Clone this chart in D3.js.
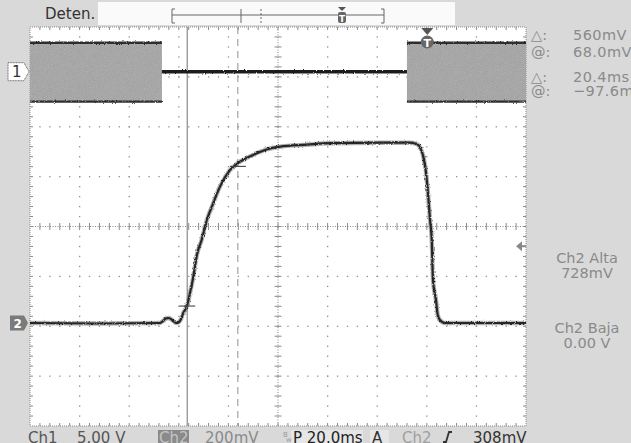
<!DOCTYPE html>
<html><head><meta charset="utf-8">
<script src="https://cdn.jsdelivr.net/npm/d3@7"></script>
<style>
html,body{margin:0;padding:0;background:#d9d9d9;overflow:hidden}
text{font-family:"DejaVu Sans",sans-serif}
</style></head>
<body><svg id="c" width="631" height="443"></svg>
<script>
// ---------- data ----------
// Channel 2 waveform: time (ms, relative to trigger) and voltage (mV)
const ch2Time = [-161,-132.8,-108.6,-107.4,-106.2,-105.0,-103.7,-102.1,-100.9,-100.1,-99.2,-97.6,-96.5,-95.4,-94.7,-93.7,-91.8,-89.7,-87.1,-84.4,-80.4,-76.3,-71.1,-65.6,-60.2,-49.4,-40.0,-19.9,-7.8,-5.1,-3.5,-2.4,-1.3,-0.4,0.3,1.0,1.5,2.7,3.4,4.3,6.3,39];
const ch2mV   = [0,-2,0,8,18,20,12,0,4,16,40,72,120,172,213,273,333,413,481,547,613,647,674,696,707,715,721,723,723,718,700,667,601,506,413,333,172,92,32,12,0,0];
// Channel 1: bursts (envelope, V) and idle section (V)
const ch1BurstStart = [-161, -9];
const ch1BurstEnd   = [-107.8, 39];
const ch1BurstHigh  = [2.9, 2.9];
const ch1BurstLow   = [-3.0, -3.0];
const ch1IdleStart  = [-107.8];
const ch1IdleEnd    = [-9];
const ch1IdleLevel  = [0];
// Cursors
const cursorTimes  = [-97.6, -77.2];
const cursorLevels = [68, 628];
const triggerLevel = 308;
// Settings
const timeDomain = [-161, 39];   // ms across 10 divisions (20 ms/div)
const ch2PerDiv = 200, ch2GroundDiv = 2.065;
const ch1PerDiv = 5, ch1GroundDiv = 7.104;
// Texts
const headerText = "Deten.";
const measLabels = ["\u25B3:", "@:", "\u25B3:", "@:"];
const measValues = ["560mV", "68.0mV", "20.4ms", "\u221297.6ms"];
const levelLabels = ["Ch2 Alta", "728mV", "Ch2 Baja", "0.00 V"];
const statusTexts = ["Ch1", "5.00 V", "Ch2", "200mV", "P 20.0ms", "A", "Ch2", "308mV"];

// ---------- layout ----------
const X0 = 30, X1 = 526, Y0 = 27, Y1 = 426;
const svg = d3.select("#c");
const defs = svg.append("defs");
const jit = defs.append("filter").attr("id","jit").attr("filterUnits","userSpaceOnUse")
  .attr("x",0).attr("y",0).attr("width",631).attr("height",443);
jit.append("feTurbulence").attr("type","fractalNoise").attr("baseFrequency","0.9 0.7")
  .attr("numOctaves",1).attr("seed",4).attr("result","n");
jit.append("feDisplacementMap").attr("in","SourceGraphic").attr("in2","n")
  .attr("scale",2.8).attr("xChannelSelector","R").attr("yChannelSelector","G");

const grain = defs.append("filter").attr("id","grain").attr("filterUnits","userSpaceOnUse")
  .attr("x",0).attr("y",0).attr("width",631).attr("height",443);
grain.append("feTurbulence").attr("type","fractalNoise").attr("baseFrequency","1.3")
  .attr("numOctaves",1).attr("seed",7).attr("result","t");
grain.append("feColorMatrix").attr("in","t").attr("type","matrix")
  .attr("values","0 0 0 0 0  0 0 0 0 0  0 0 0 0 0  0 0 0 0.28 0").attr("result","a");
grain.append("feComposite").attr("in","a").attr("in2","SourceGraphic").attr("operator","in").attr("result","g");
grain.append("feMerge").call(m=>{m.append("feMergeNode").attr("in","SourceGraphic");m.append("feMergeNode").attr("in","g");});

svg.append("rect").attr("width",631).attr("height",443).attr("fill","#d9d9d9");

// scales
const x = d3.scaleLinear().domain(timeDomain).range([X0, X1]);
const y2 = d3.scaleLinear().domain([-ch2GroundDiv*ch2PerDiv, (8-ch2GroundDiv)*ch2PerDiv]).range([Y1, Y0]);
const y1 = d3.scaleLinear().domain([-ch1GroundDiv*ch1PerDiv, (8-ch1GroundDiv)*ch1PerDiv]).range([Y1, Y0]);
const dx = d3.scaleLinear().domain([0,10]).range([X0, X1]);
const dy = d3.scaleLinear().domain([0,8]).range([Y1, Y0]);

// header bar
svg.append("text").attr("x",45).attr("y",19).attr("font-size",15).attr("fill","#333").text(headerText);
svg.append("rect").attr("x",98).attr("y",2).attr("width",357).attr("height",23).attr("fill","#fafafa");
const hb = svg.append("g").attr("stroke","#666").attr("stroke-width",1).attr("fill","none");
hb.append("line").attr("x1",172).attr("x2",384).attr("y1",15).attr("y2",15);
hb.append("path").attr("d","M175,9H172V23H175M381,9H384V23H381");
hb.append("line").attr("x1",241).attr("x2",241).attr("y1",9).attr("y2",23);
hb.append("line").attr("x1",261).attr("x2",261).attr("y1",9).attr("y2",23).attr("stroke-dasharray","2,2");
svg.append("path").attr("d","M338,7H346L342,11Z").attr("fill","#555");
svg.append("rect").attr("x",338).attr("y",12).attr("width",8).attr("height",11).attr("rx",2).attr("fill","#666");
svg.append("text").attr("x",342).attr("y",21.5).attr("font-size",9).attr("font-weight","bold").attr("text-anchor","middle").attr("fill","#fff").text("T");

// plot area
svg.append("rect").attr("x",X0).attr("y",Y0).attr("width",X1-X0).attr("height",Y1-Y0).attr("fill","#fff");

// graticule dots
const gdots = svg.append("g").attr("fill","#8e8e8e");
for (let i=1;i<10;i++){ if(i===5) continue;
  for (let j=1;j<40;j++) gdots.append("rect").attr("x",dx(i)-0.6).attr("y",dy(j/5)-0.6).attr("width",1.3).attr("height",1.3);
}
for (let r=1;r<8;r++){ if(r===4) continue;
  for (let k=1;k<50;k++) gdots.append("rect").attr("x",dx(k/5)-0.6).attr("y",dy(r)-0.6).attr("width",1.3).attr("height",1.3);
}
// center lines with ticks
const cg = svg.append("g").attr("stroke","#8a8a8a").attr("stroke-width",1);
cg.append("line").attr("x1",X0).attr("x2",X1).attr("y1",dy(4)).attr("y2",dy(4)).attr("stroke-dasharray","1,1.5");
cg.append("line").attr("x1",dx(5)).attr("x2",dx(5)).attr("y1",Y0).attr("y2",Y1).attr("stroke-dasharray","1,1.5");
for (let k=1;k<50;k++) cg.append("line").attr("x1",dx(k/5)).attr("x2",dx(k/5)).attr("y1",dy(4)-3.5).attr("y2",dy(4)+3.5);
for (let j=1;j<40;j++) cg.append("line").attr("x1",dx(5)-3.5).attr("x2",dx(5)+3.5).attr("y1",dy(j/5)).attr("y2",dy(j/5));
// border
cg.append("rect").attr("x",X0).attr("y",Y0).attr("width",X1-X0).attr("height",Y1-Y0).attr("fill","none").attr("stroke-dasharray","1,1");
for (let k=1;k<50;k++){ cg.append("line").attr("x1",dx(k/5)).attr("x2",dx(k/5)).attr("y1",Y1).attr("y2",Y1-3);
  cg.append("line").attr("x1",dx(k/5)).attr("x2",dx(k/5)).attr("y1",Y0).attr("y2",Y0+3); }
for (let j=1;j<40;j++){ cg.append("line").attr("x1",X0).attr("x2",X0+3).attr("y1",dy(j/5)).attr("y2",dy(j/5));
  cg.append("line").attr("x1",X1).attr("x2",X1-3).attr("y1",dy(j/5)).attr("y2",dy(j/5)); }

// vertical cursors
svg.append("line").attr("x1",x(cursorTimes[0])).attr("x2",x(cursorTimes[0])).attr("y1",Y0).attr("y2",Y1)
  .attr("stroke","#8a8a8a").attr("stroke-width",1.2);
svg.append("line").attr("x1",x(cursorTimes[1])).attr("x2",x(cursorTimes[1])).attr("y1",Y0).attr("y2",Y1)
  .attr("stroke","#9a9a9a").attr("stroke-width",1.1).attr("stroke-dasharray","7,5");

// channel 1
const c1 = svg.append("g");
ch1BurstStart.forEach((s,i)=>{
  c1.append("rect").attr("x",x(s)).attr("y",y1(ch1BurstHigh[i])).attr("width",x(ch1BurstEnd[i])-x(s))
    .attr("height",y1(ch1BurstLow[i])-y1(ch1BurstHigh[i])).attr("fill","#b3b3b3").attr("filter","url(#grain)");
});
const c1lines = svg.append("g").attr("filter","url(#jit)").attr("stroke","#2e2e2e").attr("fill","none");
ch1BurstStart.forEach((s,i)=>{
  c1lines.append("line").attr("x1",x(s)).attr("x2",x(ch1BurstEnd[i])).attr("y1",y1(ch1BurstHigh[i])).attr("y2",y1(ch1BurstHigh[i])).attr("stroke-width",2.4);
  c1lines.append("line").attr("x1",x(s)).attr("x2",x(ch1BurstEnd[i])).attr("y1",y1(ch1BurstLow[i])).attr("y2",y1(ch1BurstLow[i])).attr("stroke-width",2.4);
});
ch1IdleStart.forEach((s,i)=>{
  c1lines.append("line").attr("x1",x(s)).attr("x2",x(ch1IdleEnd[i])).attr("y1",y1(ch1IdleLevel[i])).attr("y2",y1(ch1IdleLevel[i])).attr("stroke-width",3.6).attr("stroke","#1e1e1e");
});

// channel 2 trace
const pts = ch2Time.map((t,i)=>[t, ch2mV[i]]);
const line = d3.line().x(d=>x(d[0])).y(d=>y2(d[1])).curve(d3.curveMonotoneX);
svg.append("path").datum(pts).attr("d",line).attr("fill","none").attr("stroke","#666").attr("stroke-width",4.4).attr("opacity",0.5).attr("filter","url(#jit)");
svg.append("path").datum(pts).attr("d",line).attr("fill","none").attr("stroke","#262626").attr("stroke-width",2.2).attr("filter","url(#jit)");

// cursor crosses
cursorTimes.forEach((t,i)=>{
  svg.append("line").attr("x1",x(t)-8).attr("x2",x(t)+8).attr("y1",y2(cursorLevels[i])).attr("y2",y2(cursorLevels[i]))
    .attr("stroke","#444").attr("stroke-width",1.1);
});

// trigger level arrow
const ty = y2(triggerLevel);
svg.append("path").attr("d",`M${X1-10},${ty}L${X1-4},${ty-5}V${ty+5}Z`).attr("fill","#888");
svg.append("line").attr("x1",X1-5).attr("x2",X1).attr("y1",ty).attr("y2",ty).attr("stroke","#888").attr("stroke-width",2);

// ch1 trigger marker
const tx = x(0) - 2;
svg.append("path").attr("d",`M${tx-6},28H${tx+6}L${tx},35Z`).attr("fill","#555");
svg.append("circle").attr("cx",tx).attr("cy",42).attr("r",6.5).attr("fill","#666");
svg.append("text").attr("x",tx).attr("y",46.5).attr("font-size",11).attr("font-weight","bold").attr("text-anchor","middle").attr("fill","#fff").text("T");

// channel markers
const m1 = y1(0);
svg.append("path").attr("d",`M8,${m1-9}H24L29,${m1}L24,${m1+9}H8Z`).attr("fill","#fff").attr("stroke","#666").attr("stroke-dasharray","1,0.6");
svg.append("text").attr("x",12).attr("y",m1+5.5).attr("font-size",15).attr("fill","#333").text("1");
const m2 = y2(0);
svg.append("path").attr("d",`M10,${m2-7.5}H24L28,${m2}L24,${m2+7.5}H10Z`).attr("fill","#7a7a7a");
svg.append("text").attr("x",13.5).attr("y",m2+4.5).attr("font-size",12).attr("font-weight","bold").attr("fill","#fff").text("2");

// measurement readouts
const my = [39.5, 56.5, 82, 95.5];
measLabels.forEach((l,i)=>{
  svg.append("text").attr("x",531).attr("y",my[i]).attr("font-size",14.5).attr("fill","#8a8a8a").text(l);
  svg.append("text").attr("x",573).attr("y",my[i]).attr("font-size",14.5).attr("fill","#8a8a8a").attr("letter-spacing",0.4).text(measValues[i]);
});
const ly = [263, 278, 333, 348];
levelLabels.forEach((l,i)=>{
  svg.append("text").attr("x",587).attr("y",ly[i]).attr("font-size",14.5).attr("text-anchor","middle").attr("fill","#8a8a8a").text(l);
});

// status bar
svg.append("rect").attr("x",158).attr("y",430).attr("width",31).attr("height",13).attr("fill","#8a8a8a");
svg.append("rect").attr("x",291).attr("y",430).attr("width",72).attr("height",13).attr("fill","#e6e6e6");
svg.append("rect").attr("x",370).attr("y",430).attr("width",19).attr("height",13).attr("fill","#e6e6e6");
const sx = [28, 77, 159, 205, 293, 372, 402, 473];
const sc = ["#555", "#555", "#c4c4c4", "#8a8a8a", "#222", "#333", "#a0a0a0", "#333"];
statusTexts.forEach((t,i)=>{
  svg.append("text").attr("x",sx[i]).attr("y",442.5).attr("font-size",15).attr("fill",sc[i]).text(t);
});
svg.append("text").attr("x",283).attr("y",437).attr("font-size",7).attr("fill","#999").text("B");
svg.append("text").attr("x",286).attr("y",442).attr("font-size",7).attr("fill","#999").text("w");
svg.append("path").attr("d","M443,442H446L449,432H452").attr("fill","none").attr("stroke","#333").attr("stroke-width",1.8);
</script></body></html>
